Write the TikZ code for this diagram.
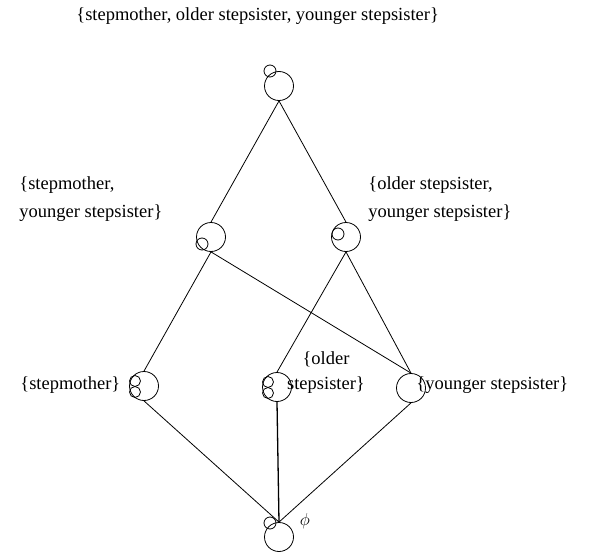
\documentclass[tikz,border=0pt]{standalone}
\usepackage{fontspec}
\setmainfont{Liberation Serif}

\begin{document}
\begin{tikzpicture}[x=1pt,y=-1pt,line width=0.8pt,
    every node/.style={font=\fontsize{18.5}{28}\selectfont,inner sep=0pt},
    big/.style={circle,draw,minimum size=29pt},
    small/.style={circle,draw,minimum size=12pt}]
  \useasboundingbox (0,0) rectangle (590,554);
  % subsets, largest at the top
  \node[big] (all) at (279,86) {};
  \node[big] (sy) at (211,237) {};
  \node[big] (oy) at (346,237) {};
  \node[big] (s) at (144,386) {};
  \node[big] (o) at (277,387) {};
  \node[big] (y) at (411,388) {};
  \node[big] (none) at (279,537) {};
  % the little circles
  \node[small] (all1) at ([shift={(-9,-15)}]all) {};
  \node[small] (sy1) at ([shift={(-9,7)}]sy) {};
  \node[small] (oy1) at ([shift={(-8,-3)}]oy) {};
  \node[small,minimum size=11pt] (s1) at ([shift={(-9,-5)}]s) {};
  \node[small,minimum size=11pt] (s2) at ([shift={(-9,6)}]s) {};
  \node[small,minimum size=11pt] (o1) at ([shift={(-9,-5)}]o) {};
  \node[small,minimum size=11pt] (o2) at ([shift={(-9,6)}]o) {};
  \node[small] (none1) at ([shift={(-9,-14)}]none) {};
  % lines of the order
  \draw (all.south) -- (sy.north);
  \draw (all.south) -- (oy.north);
  \draw (sy.south) -- (s.north);
  \draw (sy.south) -- (y.north);
  \draw (oy.south) -- (o.north);
  \draw (oy.south) -- (y.north);
  \draw (s.south) -- (none.north);
  \draw[line width=1.3pt] (o.south) -- (none.north);
  \draw (y.south) -- (none.north);
  % labels
  \node[anchor=base west] (lall) at (76,20) {\{stepmother, older stepsister, younger stepsister\}};
  \node[anchor=north west,align=left] (lsy) at (19,176) {\{stepmother,\\younger stepsister\}};
  \node[anchor=north west,align=left] (loy) at (368,176) {\{older stepsister,\\younger stepsister\}};
  \node[anchor=base west] (ls) at (20,389) {\{stepmother\}};
  \node[anchor=north,align=center,font=\fontsize{18.5}{25}\selectfont] (lo) at (326,351) {\{older\\stepsister\}};
  \node[anchor=base west] (ly) at (416,389) {\{younger stepsister\}};
  \node[font=\fontsize{19}{19}\selectfont] (lnone) at (305,521) {$\phi$};
\end{tikzpicture}
\end{document}
